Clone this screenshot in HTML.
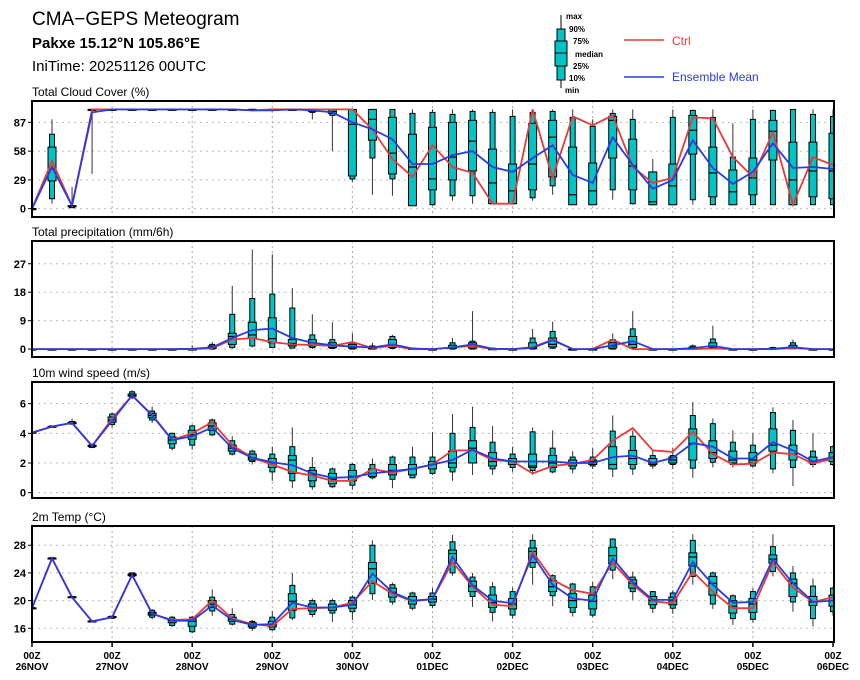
<!DOCTYPE html>
<html><head><meta charset="utf-8">
<style>
body{margin:0;background:#fff;}
svg{display:block;font-family:"Liberation Sans",sans-serif;}
</style></head>
<body>
<svg id="chart" width="860" height="680" viewBox="0 0 860 680">
<text x="32" y="25" font-size="19">CMA−GEPS Meteogram</text>
<text x="32" y="48" font-size="15" font-weight="bold">Pakxe 15.12°N 105.86°E</text>
<text x="32" y="71" font-size="15">IniTime: 20251126 00UTC</text>
<g>
 <line x1="561" y1="15" x2="561" y2="88" stroke="#000" stroke-width="1"/>
 <rect x="557" y="29" width="8" height="51" fill="#00c4c4" stroke="#000"/>
 <rect x="555" y="41" width="12" height="25" fill="#00c4c4" stroke="#000"/>
 <line x1="555" y1="53" x2="567" y2="53" stroke="#000"/>
 <g font-size="8" font-weight="bold">
 <text x="566" y="19">max</text><text x="569" y="32">90%</text><text x="573" y="44">75%</text>
 <text x="575" y="57">median</text><text x="573" y="69">25%</text><text x="569" y="81">10%</text><text x="565" y="93">min</text>
 </g>
 <line x1="624" y1="40" x2="664" y2="40" stroke="#e83a3a" stroke-width="1.5"/>
 <text x="672" y="45" font-size="12" fill="#e83a3a">Ctrl</text>
 <line x1="624" y1="77" x2="664" y2="77" stroke="#2a3be0" stroke-width="1.5"/>
 <text x="672" y="81" font-size="12" fill="#2a3be0">Ensemble Mean</text>
</g>
</svg>
<script>
// ---- data (41 steps, every 6h from 26NOV 00Z) ----
const dayLabels = ["26NOV","27NOV","28NOV","29NOV","30NOV","01DEC","02DEC","03DEC","04DEC","05DEC","06DEC"];
// Cloud cover rows: [min,p10,p25,med,p75,p90,max,ctrl,mean]
const cloudRows = [
[0,0,0,0,0,0,0,0,0],[5,10,28,40,62,75,90,48,42],[1,1,2,2,3,3,22,3,3],[35,100,100,100,100,100,100,100,97],
[100,100,100,100,100,100,100,100,100],[100,100,100,100,100,100,100,100,100],[100,100,100,100,100,100,100,100,100],[100,100,100,100,100,100,100,100,100],
[100,100,100,100,100,100,100,100,100],[100,100,100,100,100,100,100,100,100],[99,99,100,100,100,100,100,100,100],[99,99,99,100,100,100,100,99,99],
[98,99,99,100,100,100,100,100,99],[99,99,100,100,100,100,100,100,100],[90,97,98,99,100,100,100,100,99],[58,94,96,98,100,100,100,100,97],
[27,30,33,85,100,100,100,100,87],[14,51,69,90,100,100,100,80,80],[13,30,35,56,92,100,100,50,70],[3,3,3,42,75,96,100,32,45],
[3,4,19,30,82,97,100,64,45],[8,13,29,52,87,95,100,42,54],[5,13,38,68,89,98,100,36,58],[4,5,5,26,60,97,100,5,42],
[4,5,5,18,45,93,100,5,37],[8,11,19,45,86,97,100,100,51],[14,23,32,72,89,98,100,31,64],[4,4,4,14,62,92,100,93,34],
[4,4,4,18,46,83,90,84,26],[9,19,51,89,93,96,100,94,72],[4,5,19,43,70,90,100,42,44],[4,4,4,7,37,37,50,26,20],
[4,4,4,23,45,92,100,31,29],[4,9,55,79,94,99,100,92,69],[4,4,12,36,62,92,100,91,41],[4,4,4,17,39,52,86,52,25],
[4,4,14,31,51,90,100,32,37],[4,4,49,78,89,99,100,77,66],[4,4,4,29,67,100,100,4,41],[4,4,12,38,67,95,100,52,42],
[4,4,10,38,76,93,100,44,40]];
const precipRows = [
[0,0,0,0,0,0,0,0,0],[0,0,0,0,0,0,0,0,0],[0,0,0,0,0,0,0,0,0],[0,0,0,0,0,0,0,0,0],
[0,0,0,0,0,0,0,0,0],[0,0,0,0,0,0,0,0,0],[0,0,0,0,0,0,0,0,0],[0,0,0,0,0,0,0,0,0],
[0,0,0,0,0,0.2,1.2,0,0.1],[0,0,0.2,0.5,1,1.5,2.2,0.3,0.5],[0,0.5,1.5,4,5,11,20,3,3.5],[0.5,1,3.5,4.5,8.5,16,31.5,3.5,6],
[0.3,0.5,2,3.3,9.9,17.4,30,2.2,6.5],[0.2,0.3,1,1.8,3,13,19.3,1.5,3.5],[0,0.5,1,2,3,4.5,11,1.3,2],[0,0.2,0.5,1,2,3,8.5,1,1.2],
[0,0,0.3,0.8,1.5,2,5,2.2,0.8],[0,0,0.1,0.3,0.6,1,2,0.3,0.5],[0,0.2,0.5,1,3,4,4.5,1,1.5],[0,0,0,0.1,0.2,0.3,0.5,0,0.2],
[0,0,0,0,0,0,0,0,0],[0,0,0.2,0.5,1.2,2,3.5,0.5,0.5],[0,0,0.3,1,2,2.5,12,1,1.5],[0,0,0,0,0.1,0.3,0.5,0,0.1],
[0,0,0,0,0,0,0.3,0,0],[0,0,0.2,0.5,2,3.5,6.4,0.6,0.4],[0,0.3,0.7,1.5,3.5,5.6,8.7,3,2.8],[0,0,0,0,0,0,0,0,0],
[0,0,0,0,0,0.1,0.3,0,0],[0,0,0.3,1,2,3,5,3,1.2],[0,0.2,0.5,1.5,4,6.4,12,0,2.5],[0,0,0,0,0,0,0,0,0],
[0,0,0,0,0,0,0,0,0],[0,0,0.1,0.2,0.6,1,1.5,0,0.3],[0,0.2,0.5,0.8,2,3.2,7.4,0.2,1],[0,0,0,0,0,0,0,0,0],
[0,0,0,0,0,0,0,0,0],[0,0,0,0.1,0.3,0.5,0.8,0,0.1],[0,0.1,0.3,0.5,1.2,2,3,0.3,0.6],[0,0,0,0,0,0,0,0,0],
[0,0,0,0,0,0,0,0,0]];
const windRows = [
[4.0,4.02,4.03,4.05,4.07,4.08,4.1,4.05,4.05],[4.4,4.42,4.43,4.45,4.47,4.5,4.5,4.45,4.45],[4.6,4.62,4.65,4.7,4.75,4.8,5.0,4.7,4.7],[3.0,3.05,3.1,3.15,3.2,3.25,3.3,3.15,3.15],
[4.4,4.6,4.75,4.9,5.1,5.3,5.4,5.0,4.85],[6.3,6.4,6.5,6.55,6.65,6.8,6.9,6.55,6.55],[4.7,4.9,5.05,5.2,5.35,5.5,5.8,5.25,5.2],[2.85,3.0,3.3,3.55,3.75,4.0,4.05,3.55,3.55],
[2.9,3.2,3.6,3.9,4.2,4.5,4.6,4.0,3.8],[3.8,3.9,4.2,4.5,4.7,4.9,5.0,4.75,4.4],[2.5,2.6,2.8,3.0,3.2,3.5,3.8,3.2,3.0],[1.9,2.1,2.2,2.35,2.6,2.8,2.9,2.35,2.35],
[0.8,1.4,1.7,2.0,2.3,2.6,3.1,1.9,2.05],[0.3,0.8,1.3,2.2,2.5,3.1,4.4,1.4,1.85],[0.2,0.4,0.8,1.2,1.5,1.7,2.4,1.15,1.3],[0.3,0.4,0.6,0.9,1.3,1.6,1.7,0.8,1.0],
[0.2,0.5,0.8,1.1,1.5,1.9,2.0,0.8,1.05],[0.9,1.0,1.1,1.3,1.6,1.9,2.3,1.6,1.3],[0.3,0.9,1.2,1.5,1.9,2.4,2.5,1.35,1.45],[1.0,1.0,1.2,1.6,1.9,2.4,3.1,1.6,1.6],
[1.2,1.3,1.6,1.9,2.1,2.4,4.1,1.9,1.9],[0.8,1.4,1.7,2.0,2.8,4.0,5.3,2.85,2.2],[1.2,2.0,2.0,3.0,3.5,4.4,5.8,2.85,2.9],[1.2,1.6,1.8,2.1,2.7,3.4,4.5,2.2,2.3],
[1.4,1.7,1.9,2.1,2.3,2.6,3.1,2.1,2.1],[1.2,1.5,1.7,1.8,2.6,4.1,4.4,1.3,2.1],[1.3,1.4,1.7,2.0,2.5,3.0,4.2,1.8,2.1],[1.3,1.6,1.8,2.0,2.2,2.4,2.8,1.95,2.0],
[1.6,1.8,1.9,2.1,2.2,2.4,3.0,2.2,2.0],[1.05,1.6,1.6,1.9,3.1,4.15,5.2,3.5,2.4],[1.2,1.6,1.9,2.3,2.85,3.8,4.2,4.35,2.5],[1.6,1.8,1.9,2.0,2.3,2.5,2.9,2.85,2.0],
[1.6,1.9,2.0,2.2,2.4,2.5,3.0,2.75,2.35],[1.0,1.65,2.2,3.3,4.3,5.2,6.1,4.1,3.35],[1.7,2.05,2.3,2.7,3.5,4.65,5.0,2.6,3.1],[1.7,1.9,2.0,2.2,2.8,3.4,4.2,1.9,2.3],
[1.7,1.8,2.0,2.2,2.7,3.2,4.0,1.95,2.3],[1.3,1.6,2.8,3.2,4.3,5.4,5.75,2.7,3.4],[0.45,1.7,2.2,2.6,3.2,4.2,4.9,2.6,2.85],[1.7,1.9,2.0,2.1,2.4,2.8,4.0,1.95,2.1],
[1.8,1.9,2.1,2.3,2.7,3.1,3.2,2.3,2.4]];
const tempRows = [
[18.8,18.85,18.9,18.9,18.95,19.0,19.0,18.9,18.9],[26.0,26.05,26.1,26.1,26.15,26.2,26.2,26.1,26.1],[20.4,20.45,20.5,20.5,20.55,20.6,20.6,20.5,20.5],[16.9,16.95,17.0,17.0,17.05,17.1,17.1,17.0,17.0],
[17.4,17.45,17.55,17.6,17.7,17.75,17.8,17.6,17.6],[23.3,23.5,23.6,23.7,23.85,24.0,24.1,23.7,23.7],[17.3,17.6,17.9,18.1,18.3,18.6,18.8,18.1,18.1],[16.2,16.4,16.8,17.1,17.3,17.6,17.8,17.2,17.1],
[15.3,15.5,16.3,17.0,17.3,17.6,17.8,17.3,17.1],[17.8,18.5,19.0,19.5,20.0,20.5,21.6,20.0,19.3],[16.4,16.6,17.0,17.3,17.6,18.0,18.9,17.4,17.2],[15.6,16.0,16.2,16.5,16.8,17.0,17.2,16.6,16.5],
[15.6,15.8,16.2,16.5,17.0,17.6,18.5,16.3,16.6],[17.2,17.5,18.6,19.9,21.0,22.2,24.0,18.8,19.7],[17.6,18.0,18.5,19.0,19.5,20.0,20.3,18.9,19.0],[16.9,18.2,18.6,19.0,19.5,20.0,20.3,19.0,19.0],
[17.2,18.4,18.9,19.4,20.0,20.5,20.8,19.7,19.4],[20.1,21.0,22.5,24.6,25.5,28.0,28.7,22.8,23.9],[19.4,19.8,20.5,21.2,21.8,22.3,22.6,21.0,21.2],[18.6,18.9,19.5,20.0,20.6,21.1,21.3,19.9,20.0],
[18.9,19.3,19.8,20.2,20.6,21.1,21.8,20.2,20.2],[23.6,24.0,25.4,26.8,27.3,28.5,29.5,25.6,26.3],[19.1,20.6,21.3,22.1,22.8,23.4,24.0,22.0,22.2],[17.0,18.3,19.0,19.7,20.8,22.0,22.7,19.4,20.0],
[17.4,17.9,18.8,19.5,20.3,21.3,21.9,19.2,19.6],[22.3,24.8,25.5,27.1,27.6,28.7,29.6,27.1,26.6],[19.2,20.7,21.3,22.0,22.9,23.6,23.8,23.0,22.3],[17.7,18.3,19.0,20.0,21.0,22.4,22.6,21.5,20.3],
[17.6,17.9,18.8,19.9,20.8,22.0,22.7,21.0,20.0],[23.1,24.4,25.3,26.5,27.7,28.9,29.0,25.5,26.1],[20.1,21.3,21.8,22.5,23.0,23.4,24.2,22.3,22.6],[18.2,18.9,19.4,20.0,20.6,21.3,21.4,19.9,20.1],
[18.1,18.9,19.4,20.0,20.5,21.1,21.5,19.6,20.1],[22.3,23.5,25.0,26.3,26.9,28.7,29.6,24.2,25.6],[18.8,19.5,20.8,22.5,23.5,24.0,24.2,21.3,22.3],[16.5,17.4,18.2,19.2,20.0,20.7,20.9,18.9,19.7],
[16.8,17.3,18.3,19.5,20.3,21.3,21.8,18.9,19.8],[23.5,24.2,25.4,26.0,26.6,27.8,29.6,25.5,26.0],[18.4,19.8,20.6,22.5,23.1,24.0,25.0,21.9,22.5],[16.3,17.4,19.3,19.8,20.6,22.1,23.2,19.8,19.8],
[17.8,18.4,19.2,20.0,20.8,21.8,22.0,20.5,20.0]];
const cloudTicks = [0,29,58,87];
const precipTicks = [0,9,18,27];
const windTicks = [0,2,4,6];
const tempTicks = [16,20,24,28];

const NS = "http://www.w3.org/2000/svg";
const svg = document.getElementById("chart");
const X0 = 32, X1 = 833, NSTEP = 40;
function xPos(i){ return X0 + (X1 - X0) * i / NSTEP; }
function mk(tag, attrs, parent){
  const e = document.createElementNS(NS, tag);
  for (const k in attrs) e.setAttribute(k, attrs[k]);
  (parent || svg).appendChild(e); return e;
}
const panels = [
 {name:"cloud-cover", title:"Total Cloud Cover (%)", top:101, bot:217, vmin:-8.4, vmax:108.5, rows:cloudRows, ticks:cloudTicks},
 {name:"precipitation", title:"Total precipitation (mm/6h)", top:241, bot:357, vmin:-2.5, vmax:34.2, rows:precipRows, ticks:precipTicks},
 {name:"wind-speed", title:"10m wind speed (m/s)", top:382, bot:498, vmin:-0.36, vmax:7.46, rows:windRows, ticks:windTicks},
 {name:"temperature", title:"2m Temp (°C)", top:526, bot:642, vmin:14.02, vmax:30.78, rows:tempRows, ticks:tempTicks}
];
panels.forEach((p, pi) => {
  const y = v => p.bot - (v - p.vmin) / (p.vmax - p.vmin) * (p.bot - p.top);
  const g = mk("g", {});
  
  
  const t = mk("text", {x:32, y:p.top-5, "font-size":12}, g);
  t.textContent = p.title;
  
  
  const clipId = "clip" + pi;
  const cp = mk("clipPath", {id:clipId}, g);
  mk("rect", {x:X0, y:p.top, width:X1-X0, height:p.bot-p.top}, cp);
  // grid
  p.ticks.forEach(tv => {
    const gl = mk("line", {x1:X0, x2:X1, y1:y(tv), y2:y(tv), stroke:"#bbb", "stroke-width":1, "stroke-dasharray":"2,4"}, g);
    
    
    mk("line", {x1:X0-4, x2:X0, y1:y(tv), y2:y(tv), stroke:"#000"}, g);
    const tl = mk("text", {x:X0-6, y:y(tv)+4, "font-size":11, "font-weight":"bold", "text-anchor":"end"}, g);
    tl.textContent = tv;
    
    
  });
  for (let d = 1; d < dayLabels.length - 1; d++) {
    const vx = xPos(d*4);
    const vl = mk("line", {x1:vx, x2:vx, y1:p.top, y2:p.bot, stroke:"#aaa", "stroke-width":1, "stroke-dasharray":"2,3"}, g);
    
    
  }
  const mg = mk("g", {"clip-path":"url(#"+clipId+")"}, g);
  // boxes
  p.rows.forEach((r, i) => {
    const cx = xPos(i);
    const bg = mk("g", {}, mg);
    
    
    mk("line", {x1:cx, x2:cx, y1:y(r[0]), y2:y(r[6]), stroke:"#333", "stroke-width":1}, bg);
    mk("rect", {x:cx-2.5, y:y(r[5]), width:5, height:Math.max(y(r[1])-y(r[5]),1), fill:"#00c4c4", stroke:"#000", "stroke-width":1}, bg);
    mk("rect", {x:cx-4, y:y(r[4]), width:8, height:Math.max(y(r[2])-y(r[4]),1), fill:"#00c4c4", stroke:"#000", "stroke-width":1}, bg);
    mk("line", {x1:cx-4, x2:cx+4, y1:y(r[3]), y2:y(r[3]), stroke:"#000", "stroke-width":1.2}, bg);
  });
  const ctrlPts = p.rows.map((r,i)=>xPos(i).toFixed(1)+","+y(r[7]).toFixed(1)).join(" ");
  const meanPts = p.rows.map((r,i)=>xPos(i).toFixed(1)+","+y(r[8]).toFixed(1)).join(" ");
  const cl = mk("polyline", {points:ctrlPts, fill:"none", stroke:"#e83a3a", "stroke-width":1.8}, mg);
  
  
  const ml = mk("polyline", {points:meanPts, fill:"none", stroke:"#2a3be0", "stroke-width":1.8}, mg);
  
  
  const fr = mk("rect", {x:X0, y:p.top, width:X1-X0+1, height:p.bot-p.top, fill:"none", stroke:"#000", "stroke-width":2}, g);
  
  
});
// x axis labels
dayLabels.forEach((d, k) => {
  const vx = xPos(k*4);
  mk("line", {x1:vx, x2:vx, y1:642, y2:647, stroke:"#000", "stroke-width":1.5});
  const t1 = mk("text", {x:vx, y:659, "font-size":10, "font-weight":"bold", "text-anchor":"middle"});
  t1.textContent = "00Z";
  
  
  const t2 = mk("text", {x:vx, y:670, "font-size":10, "font-weight":"bold", "text-anchor":"middle"});
  t2.textContent = d;
  
  
});
</script>
</body></html>
